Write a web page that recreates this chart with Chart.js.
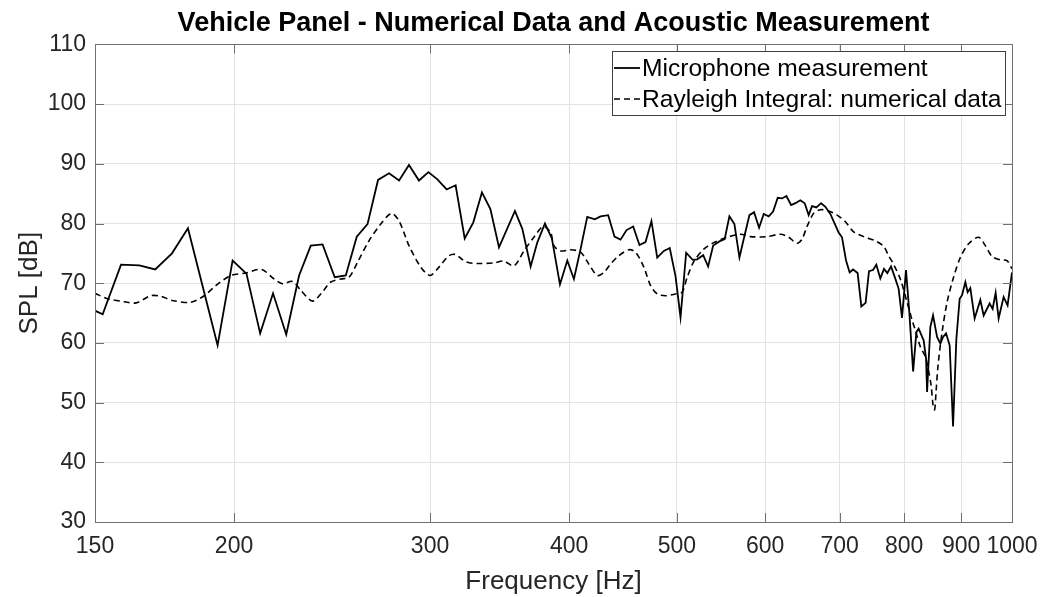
<!DOCTYPE html>
<html>
<head>
<meta charset="utf-8">
<title>Vehicle Panel - Numerical Data and Acoustic Measurement</title>
<script src="https://cdn.jsdelivr.net/npm/chart.js@4.4.1/dist/chart.umd.min.js"></script>
<style>
  html, body { margin: 0; padding: 0; background: #fff; }
  #wrap { width: 1056px; height: 597px; }
</style>
</head>
<body>
<div id="wrap"><canvas id="myChart" width="1056" height="597"></canvas></div>
<script>
// tick labels
const xTicks = [150, 200, 300, 400, 500, 600, 700, 800, 900, 1000];
const yTicks = [30, 40, 50, 60, 70, 80, 90, 100, 110];

// Microphone measurement (solid)
const micFreq = [150, 152.4, 158.3, 164.4, 169.9, 175.9, 181.8, 193.3, 199.4, 205.2,
  211.1, 216.8, 222.8, 228.8, 234.4, 240.2, 246.3, 252.0, 257.8, 263.6,
  269.4, 275.6, 281.4, 287.2, 293.2, 299.0, 304.6, 310.5, 316.3, 322.3,
  328.1, 334.0, 339.9, 346.0, 357.6, 363.1, 369.4, 374.5, 380.5, 386.0,
  392.5, 398.5, 404.0, 409.6, 415.3, 421.9, 426.9, 433.7, 439.4, 444.9,
  450.5, 456.7, 462.7, 468.5, 474.3, 480.0, 486.6, 492.6, 498.5, 503.7,
  509.6, 516.6, 521.4, 527.9, 533.3, 538.9, 545.9, 551.9, 557.3, 563.1,
  569.0, 574.9, 580.9, 586.5, 592.6, 598.3, 604.5, 610.0, 615.9, 621.5,
  627.0, 633.2, 638.8, 645.4, 651.2, 656.6, 661.2, 667.2, 673.7, 679.7,
  686.7, 692.4, 698.6, 703.5, 709.4, 714.7, 719.7, 726.6, 732.2, 738.7,
  743.9, 750.1, 755.3, 761.5, 767.4, 772.6, 778.6, 784.4, 790.9, 796.5,
  803.1, 808.7, 815.0, 820.5, 824.4, 833.0, 837.1, 838.9, 844.6, 849.3,
  856.4, 862.3, 867.1, 872.5, 879.0, 885.2, 891.3, 897.4, 901.8, 908.0,
  912.3, 917.4, 925.6, 936.6, 943.0, 954.8, 960.7, 966.7, 972.7, 982.8,
  990.9, 1000];
const micSpl = [65.4, 64.8, 73.1, 73.0, 72.3, 75.0, 79.2, 59.6, 73.8, 71.6,
  61.6, 68.3, 61.4, 71.3, 76.3, 76.5, 71.0, 71.3, 77.8, 79.9,
  87.3, 88.4, 87.2, 89.8, 87.2, 88.6, 87.4, 85.7, 86.4, 77.5,
  80.2, 85.2, 82.4, 76.0, 82.1, 79.1, 72.8, 76.8, 80.0, 77.5,
  69.8, 73.8, 70.7, 75.7, 81.1, 80.7, 81.2, 81.4, 77.8, 77.3,
  78.9, 79.5, 76.4, 76.9, 80.4, 74.3, 75.4, 75.9, 71.2, 64.3,
  75.1, 73.9, 74.0, 74.7, 72.8, 76.3, 77.0, 77.4, 81.2, 79.9,
  74.3, 77.9, 81.4, 81.9, 79.3, 81.6, 81.2, 82.0, 84.3, 84.2,
  84.6, 83.1, 83.4, 83.9, 83.4, 81.4, 82.9, 82.7, 83.4, 82.8,
  81.6, 80.1, 78.5, 77.7, 73.8, 71.8, 72.3, 71.7, 66.1, 66.7,
  72.0, 72.2, 73.1, 70.8, 72.4, 71.7, 72.8, 71.1, 69.1, 64.2,
  72.2, 65.0, 55.2, 61.8, 62.4, 60.4, 57.4, 51.8, 62.7, 64.6,
  61.0, 59.9, 61.0, 61.6, 59.6, 46.0, 60.7, 67.4, 68.0, 70.2,
  68.5, 69.2, 64.1, 67.2, 64.6, 66.6, 65.7, 68.4, 64.1, 67.7,
  66.3, 71.8];

// Rayleigh Integral: numerical data (dashed)
const rayFreq = [150, 154.0, 159.4, 163.3, 168.4, 171.9, 176.1, 182.9, 188.0, 192.6,
  198.7, 204.9, 211.7, 217.3, 221.1, 225.7, 229.6, 235.2, 239.3, 244.3,
  249.4, 253.7, 258.2, 264.4, 270.9, 277.0, 281.4, 287.2, 294.3, 300.0,
  305.6, 312.0, 316.3, 322.9, 330.9, 342.4, 349.5, 356.9, 364.3, 371.9,
  379.2, 385.0, 387.6, 393.0, 401.2, 409.6, 416.7, 424.0, 429.8, 435.8,
  443.3, 452.6, 458.9, 466.9, 473.4, 480.0, 488.3, 498.5, 505.4, 510.7,
  517.7, 528.5, 539.5, 554.7, 570.2, 582.1, 602.5, 619.3, 630.0, 641.0,
  647.7, 654.4, 663.5, 672.7, 684.3, 696.4, 708.4, 720.7, 735.7, 753.7,
  766.7, 774.7, 782.5, 793.7, 804.9, 813.3, 818.8, 827.4, 835.9, 841.7,
  845.9, 849.3, 852.1, 854.6, 858.2, 865.3, 874.3, 885.2, 898.6, 914.2,
  933.3, 946.3, 959.5, 976.1, 989.7, 1000];
const raySpl = [68.3, 67.4, 66.9, 66.7, 67.9, 67.8, 67.1, 66.8, 67.9, 69.6,
  71.3, 71.7, 72.3, 70.7, 69.9, 70.3, 68.8, 67.0, 68.2, 70.2,
  70.7, 71.0, 73.5, 77.1, 79.9, 81.7, 80.4, 76.3, 72.7, 71.3,
  72.7, 74.6, 74.8, 73.6, 73.3, 73.4, 73.7, 72.9, 75.4, 77.7,
  79.5, 78.5, 76.3, 75.4, 75.6, 75.2, 73.2, 71.3, 71.8, 73.2,
  74.6, 75.6, 75.2, 72.7, 69.6, 68.2, 67.9, 68.2, 68.5, 71.0,
  73.6, 75.7, 76.8, 77.7, 78.2, 77.8, 77.8, 78.2, 77.7, 76.7,
  77.4, 79.5, 81.7, 82.3, 82.1, 81.4, 80.3, 78.6, 77.8, 77.1,
  76.2, 74.6, 73.2, 70.7, 66.8, 63.8, 62.1, 59.3, 57.7, 55.2,
  52.9, 49.6, 48.8, 51.8, 56.3, 61.8, 66.8, 70.7, 74.3, 76.6,
  77.7, 76.3, 74.5, 73.9, 73.8, 72.4];

const FONT = '"Liberation Sans", Arial, Helvetica, sans-serif';

// box round the axes, inward tick marks, and a boxed legend in the top right
const axesBox = {
  id: 'axesBox',
  afterDatasetsDraw(chart) {
    const ctx = chart.ctx;
    const a = chart.chartArea;
    const xs = chart.scales.x, ys = chart.scales.y;
    ctx.save();
    ctx.strokeStyle = '#707070';
    ctx.lineWidth = 1;
    ctx.beginPath();
    ctx.rect(Math.round(a.left) + 0.5, Math.round(a.top) + 0.5,
      Math.round(a.right - a.left), Math.round(a.bottom - a.top));
    ctx.stroke();
    ctx.beginPath();
    xTicks.forEach(v => {
      const px = Math.round(xs.getPixelForValue(v)) + 0.5;
      ctx.moveTo(px, a.bottom); ctx.lineTo(px, a.bottom - 9);
      ctx.moveTo(px, a.top); ctx.lineTo(px, a.top + 9);
    });
    yTicks.forEach(v => {
      const py = Math.round(ys.getPixelForValue(v)) + 0.5;
      ctx.moveTo(a.left, py); ctx.lineTo(a.left + 9, py);
      ctx.moveTo(a.right, py); ctx.lineTo(a.right - 9, py);
    });
    ctx.stroke();
    ctx.restore();
  },
  afterDraw(chart) {
    const ctx = chart.ctx;
    const bx = 612, by = 51, bw = 393, bh = 64;
    ctx.save();
    ctx.fillStyle = '#fff';
    ctx.fillRect(bx, by, bw, bh);
    ctx.strokeStyle = '#404040';
    ctx.lineWidth = 1;
    ctx.strokeRect(bx + 0.5, by + 0.5, bw, bh);
    ctx.font = '24.6px ' + FONT;
    ctx.textBaseline = 'middle';
    ctx.fillStyle = '#000';
    chart.data.datasets.forEach((ds, i) => {
      const y = by + 17 + i * 31;
      ctx.strokeStyle = ds.borderColor;
      ctx.lineWidth = ds.borderWidth;
      ctx.setLineDash(ds.borderDash || []);
      ctx.beginPath();
      ctx.moveTo(bx + 2, y); ctx.lineTo(bx + 28, y);
      ctx.stroke();
      ctx.setLineDash([]);
      ctx.fillText(ds.label, bx + 30, y + 1);
    });
    ctx.restore();
  }
};

const ctx = document.getElementById('myChart');

new Chart(ctx, {
  type: 'line',
  data: {
    datasets: [{
      label: 'Microphone measurement',
      data: micFreq.map((f, i) => ({ x: f, y: micSpl[i] })),
      borderColor: '#000',
      borderWidth: 1.8,
      pointRadius: 0,
      tension: 0
    }, {
      label: 'Rayleigh Integral: numerical data',
      data: rayFreq.map((f, i) => ({ x: f, y: raySpl[i] })),
      borderColor: '#000',
      borderWidth: 1.6,
      borderDash: [6, 4],
      pointRadius: 0,
      tension: 0.3
    }]
  },
  options: {
    responsive: false,
    animation: false,
    devicePixelRatio: 1,
    layout: { padding: { left: 0, right: 44, top: 0, bottom: 0 } },
    plugins: {
      legend: { display: false },
      tooltip: { enabled: false },
      title: {
        display: true,
        fullSize: false,
        text: 'Vehicle Panel - Numerical Data and Acoustic Measurement',
        color: '#000',
        font: { family: FONT, size: 27, weight: 'bold' },
        padding: { top: 7, bottom: 5 }
      }
    },
    scales: {
      x: {
        type: 'logarithmic',
        min: 150,
        max: 1000,
        afterBuildTicks: s => { s.ticks = xTicks.map(v => ({ value: v })); },
        afterFit: s => { s.height = 75; },
        ticks: {
          color: '#262626',
          font: { family: FONT, size: 23 },
          padding: 11,
          maxRotation: 0,
          autoSkip: false,
          callback: v => String(v)
        },
        grid: { color: '#e3e3e3', drawTicks: false },
        border: { color: '#707070' },
        title: {
          display: true,
          text: 'Frequency [Hz]',
          color: '#262626',
          font: { family: FONT, size: 26 },
          padding: { top: 5, bottom: 0 }
        }
      },
      y: {
        min: 30,
        max: 110,
        afterBuildTicks: s => { s.ticks = yTicks.map(v => ({ value: v })); },
        afterFit: s => { s.width = 95; },
        ticks: {
          color: '#262626',
          font: { family: FONT, size: 23 },
          padding: 9
        },
        grid: { color: '#e3e3e3', drawTicks: false },
        border: { color: '#707070' },
        title: {
          display: true,
          text: 'SPL [dB]',
          color: '#262626',
          font: { family: FONT, size: 26 },
          padding: { top: 14, bottom: 0 }
        }
      }
    }
  },
  plugins: [axesBox]
});
</script>
</body>
</html>
